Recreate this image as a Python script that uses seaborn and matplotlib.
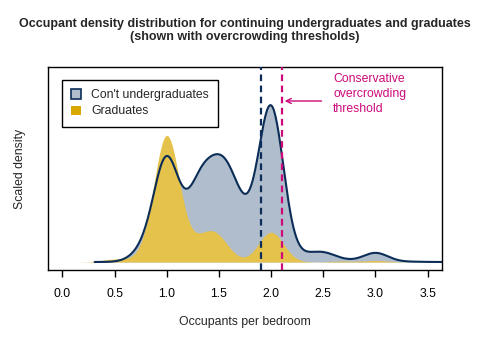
import numpy as np
import pandas as pd
import matplotlib
matplotlib.use("Agg")
import matplotlib.pyplot as plt
from matplotlib.patches import Patch
import seaborn as sns

# Occupants per bedroom (discrete ratios) and relative counts, estimated from the chart
ug_values = [0.67, 0.8, 1.0, 1.25, 1.33, 1.5, 1.6, 1.67, 1.8, 2.0, 2.33, 2.5, 2.67, 3.0, 3.33]
ug_counts = [5, 116, 1000, 156, 569, 559, 275, 248, 128, 1527, 48, 77, 14, 91, 3]
gr_values = [0.5, 0.8, 1.0, 1.2, 1.25, 1.4, 1.5, 2.0, 2.67, 3.0, 3.33]
gr_counts = [28, 45, 1240, 21, 80, 158, 153, 297, 9, 15, 1]

group_labels = ["Con't undergraduates", "Graduates"]
thresholds = [1.9, 2.1]
x_ticks = [0.0, 0.5, 1.0, 1.5, 2.0, 2.5, 3.0, 3.5]

title = ("Occupant density distribution for continuing undergraduates and graduates\n"
         "(shown with overcrowding thresholds)")
annot_text = "Conservative\novercrowding\nthreshold"

NAVY = "#0B2D57"
GREY = "#B0BDCC"
GOLD = "#E4C24B"
GOLD_KEY = "#D9A800"
MAGENTA = "#CC0A7A"

BW = 0.12  # kernel bandwidth in x units

df = pd.DataFrame({
    "value": ug_values + gr_values,
    "count": ug_counts + gr_counts,
    "group": [group_labels[0]] * len(ug_values) + [group_labels[1]] * len(gr_values),
})


def fixed_bw(kde):
    var = np.cov(kde.dataset, rowvar=1, bias=False, aweights=kde.weights)
    return BW / np.sqrt(float(var))


sns.set_style("white")
plt.rcParams["font.family"] = ["Liberation Sans", "DejaVu Sans"]

fig = plt.figure(figsize=(4.85, 3.43), dpi=100)
ax = fig.add_axes([48 / 485, 73 / 343, 394 / 485, 203 / 343])

common = dict(data=df, x="value", hue="group", weights="count", hue_order=group_labels,
              common_norm=True, bw_method=fixed_bw, cut=3, gridsize=500, legend=False, ax=ax)

sns.kdeplot(fill=True, palette={group_labels[0]: GREY, group_labels[1]: GOLD},
            alpha=1, linewidth=0, **common)
for coll in ax.collections:
    fc = coll.get_facecolor()
    if len(fc) and np.allclose(fc[0][:3], matplotlib.colors.to_rgb(GOLD), atol=0.02):
        coll.set_zorder(2)
    else:
        coll.set_zorder(1)

n_before = len(ax.lines)
sns.kdeplot(fill=False, palette={group_labels[0]: NAVY, group_labels[1]: GOLD},
            linewidth=1.5, **common)
for ln in list(ax.lines[n_before:]):
    if np.allclose(matplotlib.colors.to_rgb(ln.get_color()), matplotlib.colors.to_rgb(GOLD), atol=0.02):
        ln.remove()
    else:
        ln.set_zorder(3)

# thresholds
for xv, col in zip(thresholds, [NAVY, MAGENTA]):
    ax.axvline(xv, color=col, lw=1.6, ls=(0, (3, 2)), zorder=4)

# vertical scale: one pixel of curve height expressed in density units
total = sum(ug_counts) + sum(gr_counts)
px = 10 / (total * BW * np.sqrt(2 * np.pi))
ax.set_ylim(-8 * px, 195 * px)
ax.set_xlim(-0.137, 3.637)

ax.annotate("", xy=(2.104, 161 * px), xytext=(2.51, 161 * px),
            arrowprops=dict(arrowstyle="->", color=MAGENTA, lw=1.0, mutation_scale=9),
            zorder=5)
ax.text(2.593, 168 * px, annot_text, color=MAGENTA, fontsize=8.8, ha="left", va="center",
        linespacing=1.32)

ax.set_xticks(x_ticks)
ax.set_xticklabels([f"{t:.1f}" for t in x_ticks], fontsize=8.8)
ax.set_yticks([])
ax.tick_params(axis="x", direction="out", length=5, width=1, pad=8, bottom=True, colors="black")
for sp in ax.spines.values():
    sp.set_visible(True)
    sp.set_color("black")
    sp.set_linewidth(1.0)

ax.set_xlabel("Occupants per bedroom", fontsize=8.8)
ax.xaxis.label.set_va("center")
ax.xaxis.set_label_coords(0.5, (270 - 322.3) / 203)
ax.set_ylabel("Scaled density", fontsize=8.8)
ax.yaxis.label.set_va("center")
ax.yaxis.set_label_coords((20 - 48) / 394, 0.5)

fig.text(245 / 485, 1 - 30.5 / 343, title, ha="center", va="center", fontsize=9.0,
         fontweight="bold", linespacing=1.2)

handles = [Patch(facecolor=GREY, edgecolor=NAVY, linewidth=1.2),
           Patch(facecolor=GOLD_KEY, edgecolor="none")]
leg = ax.legend(handles, group_labels, loc="upper left",
                bbox_to_anchor=((62.3 - 48) / 394, (270 - 80) / 203), borderaxespad=0,
                frameon=True, fancybox=False, edgecolor="black", framealpha=1,
                fontsize=8.8, handlelength=0.8, handleheight=0.8, handletextpad=0.8,
                labelspacing=0.35, borderpad=0.75)
leg.get_frame().set_linewidth(1.0)

fig.savefig("out.png", dpi=100)
